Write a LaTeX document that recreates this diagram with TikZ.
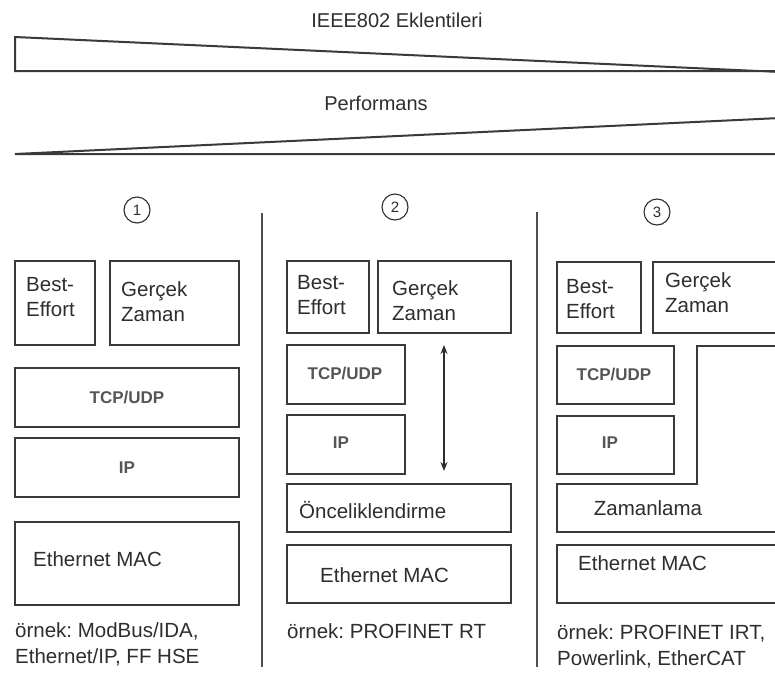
\documentclass[tikz,border=0pt]{standalone}
\usepackage{fontspec}
\setmainfont{Liberation Sans}
\frenchspacing
\usetikzlibrary{arrows.meta}
\definecolor{ink}{HTML}{2E2E2E}
\definecolor{edge}{HTML}{3A3A3A}
\definecolor{rulegray}{HTML}{4E4E4E}
\definecolor{soft}{HTML}{555555}
\tikzset{
  box/.style={draw=edge, line width=2pt, inner sep=0pt, outer sep=0pt, anchor=north west},
  lbl/.style={text=ink, font=\fontsize{20.5}{25}\selectfont, inner sep=0pt, align=left},
  proto/.style={text=soft, font=\fontsize{17}{19}\selectfont\bfseries, inner sep=0pt},
  num/.style={circle, draw=ink, line width=1.1pt, minimum size=26pt, inner sep=0pt,
              text=ink, font=\fontsize{15}{15}\selectfont},
  sep/.style={draw=rulegray, line width=2.4pt},
  wedge/.style={draw=edge, line width=2pt, line join=miter},
  head/.style={text=ink, font=\fontsize{20}{24}\selectfont, inner sep=0pt},
}
\newcommand\layer[5]{\node[box, minimum width=#4pt, minimum height=#5pt] (#1) at (#2,#3) {};}
\begin{document}
\begin{tikzpicture}[x=1pt,y=-1pt]
\clip (0,0) rectangle (775,675);
\fill[white] (0,0) rectangle (775,675);

% top: two wedges
\node[head] (ieee) at (397,20) {IEEE802 Eklentileri};
\coordinate (w1a) at (15,37);
\coordinate (w1b) at (15,71);
\coordinate (w1c) at (780,71);
\coordinate (w1d) at (780,72);
\draw[wedge] (w1d) -- (w1a) -- (w1b) -- (w1c);

\node[head] (perf) at (376,103) {Performans};
\coordinate (w2a) at (15,154);
\coordinate (w2b) at (780,154);
\coordinate (w2c) at (780,118);
\draw[wedge] (w2c) -- (w2a) -- (w2b);

% column separators
\coordinate (s1t) at (262,213); \coordinate (s1b) at (262,667);
\coordinate (s2t) at (537,212); \coordinate (s2b) at (537,667);
\draw[sep] (s1t) -- (s1b);
\draw[sep] (s2t) -- (s2b);

% column numbers
\node[num] (n1) at (137,210) {1};
\node[num] (n2) at (395,207) {2};
\node[num] (n3) at (657,212) {3};

% ---- column 1
\layer{be1}{15}{261}{80}{84}
\layer{gz1}{110}{261}{129}{84}
\layer{tcp1}{15}{368}{224}{59}
\layer{ip1}{15}{438}{224}{59}
\layer{mac1}{15}{522}{224}{83}
\node[lbl, anchor=north west] (be1t) at (26,277) {Best-\\Effort};
\node[lbl, anchor=north west] (gz1t) at (121,281) {Gerçek\\Zaman};
\node[proto] (tcp1t) at (tcp1.center) {TCP/UDP};
\node[proto] (ip1t) at (ip1.center) {IP};
\node[lbl, anchor=west] (mac1t) at (33,559) {Ethernet MAC};
\node[lbl, anchor=north west, font=\fontsize{20.5}{26}\selectfont] (ex1) at (15,622) {örnek: ModBus/IDA,\\Ethernet/IP, FF HSE};

% ---- column 2
\layer{be2}{287}{261}{82}{72}
\layer{gz2}{378}{261}{133}{72}
\layer{tcp2}{287}{345}{118}{59}
\layer{ip2}{287}{415}{118}{59}
\layer{pri2}{287}{484}{224}{48}
\layer{mac2}{287}{545}{224}{58}
\node[lbl, anchor=north west] (be2t) at (297,275) {Best-\\Effort};
\node[lbl, anchor=north west] (gz2t) at (392,280) {Gerçek\\Zaman};
\node[proto] (tcp2t) at (345,374) {TCP/UDP};
\node[proto] (ip2t) at (341,443) {IP};
\node[lbl, anchor=west] (pri2t) at (299,510) {Önceliklendirme};
\node[lbl, anchor=west] (mac2t) at (320,575) {Ethernet MAC};
\node[lbl, anchor=west] (ex2) at (287,631) {örnek: PROFINET RT};
\coordinate (arT) at (444,345);
\coordinate (arB) at (444,471);
\draw[ink, line width=1.8pt, {Stealth[length=9pt,width=7pt]}-{Stealth[length=9pt,width=7pt]}] (arT) -- (arB);

% ---- column 3
\layer{be3}{557}{262}{84}{71}
\layer{gz3}{653}{262}{140}{71}
\layer{tcp3}{557}{346}{117}{58}
\layer{ip3}{557}{416}{117}{58}
\layer{mac3}{557}{545}{240}{58}
\coordinate (z1) at (790,346);
\coordinate (z2) at (697,346);
\coordinate (z3) at (697,484);
\coordinate (z4) at (557,484);
\coordinate (z5) at (557,532);
\coordinate (z6) at (790,532);
\draw[draw=edge, line width=2pt, line join=miter] (z1) -- (z2) -- (z3) -- (z4) -- (z5) -- (z6);
\node[lbl, anchor=north west] (be3t) at (566,279) {Best-\\Effort};
\node[lbl, anchor=north west] (gz3t) at (665,272) {Gerçek\\Zaman};
\node[proto] (tcp3t) at (614,375) {TCP/UDP};
\node[proto] (ip3t) at (610,443) {IP};
\node[lbl] (zam3t) at (648,508) {Zamanlama};
\node[lbl, anchor=west] (mac3t) at (578,563) {Ethernet MAC};
\node[lbl, anchor=north west, font=\fontsize{20.5}{26}\selectfont] (ex3) at (557,624) {örnek: PROFINET IRT,\\Powerlink, EtherCAT};
\end{tikzpicture}
\end{document}
